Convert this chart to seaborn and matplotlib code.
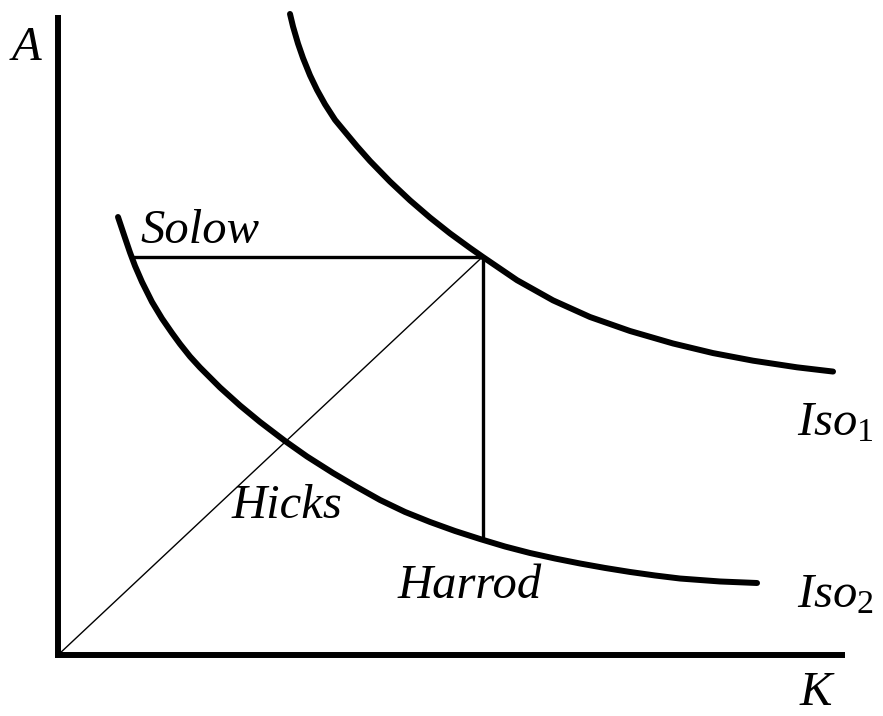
import numpy as np
import pandas as pd
import matplotlib
matplotlib.use('Agg')
import matplotlib.pyplot as plt
import seaborn as sns

# Isoquant 1 (upper curve): capital K vs technology A
iso1_k = [2.900, 2.938, 3.000, 3.063, 3.150, 3.238, 3.338, 3.463, 3.588,
          3.738, 3.900, 4.150, 4.400, 4.650, 4.900, 5.150, 5.313, 5.738,
          6.188, 6.650, 7.150, 7.688, 8.188, 8.688, 9.238, 9.688]
iso1_a = [8.013, 7.855, 7.643, 7.461, 7.246, 7.063, 6.883, 6.689, 6.538,
          6.358, 6.175, 5.918, 5.683, 5.468, 5.270, 5.088, 4.974, 4.685,
          4.433, 4.225, 4.050, 3.894, 3.774, 3.679, 3.596, 3.543]

# Isoquant 2 (lower curve)
iso2_k = [0.750, 0.838, 0.900, 0.963, 1.050, 1.175, 1.300, 1.425, 1.525,
          1.650, 1.775, 2.025, 2.275, 2.525, 2.838, 3.113, 3.438, 3.713,
          4.025, 4.338, 4.650, 4.963, 5.275, 5.588, 5.900, 6.213, 6.525,
          6.838, 7.150, 7.463, 7.775, 8.275, 8.738]
iso2_a = [5.475, 5.213, 5.031, 4.863, 4.663, 4.413, 4.206, 4.025, 3.888,
          3.731, 3.594, 3.344, 3.119, 2.913, 2.675, 2.481, 2.275, 2.113,
          1.938, 1.788, 1.663, 1.550, 1.450, 1.356, 1.275, 1.206, 1.144,
          1.088, 1.038, 0.994, 0.956, 0.919, 0.900]

# Point on Iso1 where the three paths meet
point_k = 5.31
point_a = 4.98
solow_start_k = 0.94      # left end of the horizontal (Solow) line
harrod_end_a = 1.44       # lower end of the vertical (Harrod) line
axis_k_max = 9.84
axis_a_max = 8.0

labels = ['Solow', 'Hicks', 'Harrod']

# =============================================================================
# Figure
# =============================================================================
sns.set_style('white')
plt.rcParams['mathtext.fontset'] = 'custom'
plt.rcParams['mathtext.it'] = 'Liberation Serif:italic'
plt.rcParams['mathtext.rm'] = 'Liberation Serif'

fig = plt.figure(figsize=(8.83, 7.16), dpi=100)
ax = fig.add_axes([0, 0, 1, 1])
ax.set_xlim(-0.725, 10.3125)
ax.set_ylim(-0.7625, 8.1875)
ax.axis('off')

# axes drawn as plain thick lines
ax.plot([-0.04, axis_k_max], [0, 0], color='black', lw=4.3, solid_capstyle='butt')
ax.plot([0, 0], [-0.03, axis_a_max], color='black', lw=4.3, solid_capstyle='butt')

# isoquants
iso1 = pd.DataFrame({'K': iso1_k, 'A': iso1_a})
iso2 = pd.DataFrame({'K': iso2_k, 'A': iso2_a})
sns.lineplot(data=iso1, x='K', y='A', sort=False, estimator=None, color='black',
             lw=4.3, ax=ax)
sns.lineplot(data=iso2, x='K', y='A', sort=False, estimator=None, color='black',
             lw=4.3, ax=ax)

# Solow (horizontal), Harrod (vertical) and Hicks (ray from origin)
ax.plot([solow_start_k, point_k], [point_a, point_a], color='black', lw=2.4)
ax.plot([point_k, point_k], [point_a, harrod_end_a], color='black', lw=2.4)
ax.plot([0, point_k], [0, point_a], color='black', lw=1.0)

# labels
font = dict(family='Liberation Serif', style='italic', size=35, color='black')
ax.text(-0.575, 7.44, 'A', ha='left', va='baseline', **font)
ax.text(1.025, 5.15, labels[0], ha='left', va='baseline', **font)
ax.text(2.175, 1.71, labels[1], ha='left', va='baseline', **font)
ax.text(4.24, 0.71, labels[2], ha='left', va='baseline', **font)
ax.text(9.24, 2.74, r'$Iso_{\mathrm{1}}$', ha='left', va='baseline', size=35,
        color='black')
ax.text(9.24, 0.59, r'$Iso_{\mathrm{2}}$', ha='left', va='baseline', size=35,
        color='black')
ax.text(9.275, -0.63, 'K', ha='left', va='baseline', **font)

fig.savefig('out.png', dpi=100)
